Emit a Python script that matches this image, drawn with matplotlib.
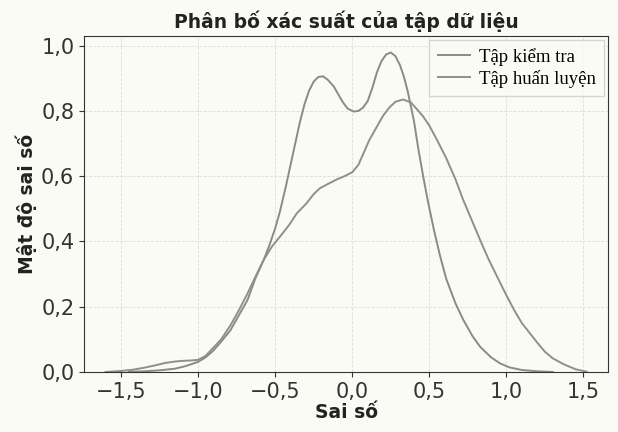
import matplotlib.pyplot as plt
from matplotlib.ticker import FuncFormatter

# values (density curves)
x_kiem_tra = [-1.45, -1.35, -1.25, -1.15, -1.08, -1.0, -0.95, -0.9, -0.85, -0.79, -0.74,
              -0.68, -0.63, -0.575, -0.54, -0.5, -0.47, -0.43, -0.4, -0.37, -0.34, -0.31,
              -0.28, -0.25, -0.22, -0.19, -0.16, -0.12, -0.09, -0.06, -0.03, 0.01, 0.04,
              0.07, 0.1, 0.13, 0.16, 0.19, 0.22, 0.25, 0.28, 0.31, 0.335, 0.36, 0.38,
              0.4, 0.43, 0.46, 0.49, 0.53, 0.57, 0.61, 0.67, 0.72, 0.78, 0.83, 0.9,
              0.96, 1.02, 1.1, 1.2, 1.3]
y_kiem_tra = [0.0, 0.002, 0.005, 0.01, 0.018, 0.031, 0.045, 0.066, 0.093, 0.128, 0.17,
              0.22, 0.285, 0.343, 0.385, 0.44, 0.49, 0.57, 0.635, 0.7, 0.765, 0.82,
              0.862, 0.89, 0.904, 0.906, 0.896, 0.875, 0.85, 0.826, 0.807, 0.798, 0.8,
              0.81, 0.83, 0.87, 0.918, 0.953, 0.973, 0.979, 0.968, 0.94, 0.905, 0.86, 0.815,
              0.77, 0.68, 0.6, 0.525, 0.435, 0.355, 0.285, 0.21, 0.16, 0.11, 0.077, 0.045,
              0.026, 0.014, 0.006, 0.002, 0.0]

x_huan_luyen = [-1.6, -1.5, -1.42, -1.35, -1.28, -1.22, -1.15, -1.1, -1.05, -1.0, -0.95,
                -0.9, -0.85, -0.79, -0.74, -0.68, -0.63, -0.575, -0.52, -0.47, -0.41,
                -0.36, -0.3, -0.25, -0.21, -0.15, -0.1, -0.05, 0.0, 0.04, 0.073, 0.11,
                0.16, 0.2, 0.24, 0.28, 0.33, 0.38, 0.42, 0.46, 0.5, 0.55, 0.61, 0.67,
                0.72, 0.78, 0.83, 0.88, 0.94, 1.0, 1.05, 1.1, 1.15, 1.2, 1.25, 1.3,
                1.37, 1.45, 1.52]
y_huan_luyen = [0.0, 0.003, 0.007, 0.013, 0.02, 0.027, 0.032, 0.034, 0.035, 0.037, 0.05,
                0.075, 0.1, 0.143, 0.185, 0.24, 0.29, 0.343, 0.385, 0.414, 0.45,
                0.486, 0.515, 0.545, 0.563, 0.578, 0.59, 0.6, 0.612, 0.635, 0.67, 0.71,
                0.752, 0.785, 0.81, 0.828, 0.835, 0.826, 0.805, 0.783, 0.755, 0.711, 0.655, 0.59,
                0.527, 0.46, 0.404, 0.35, 0.292, 0.235, 0.19, 0.15, 0.12, 0.09, 0.062, 0.042,
                0.024, 0.008, 0.001]

bg = "#fbfbf6"
plt.rcParams["font.family"] = "DejaVu Sans"

fig, ax = plt.subplots(figsize=(6.18, 4.32), dpi=100)
fig.patch.set_facecolor(bg)
ax.set_facecolor(bg)

ax.plot(x_kiem_tra, y_kiem_tra, color="#8a8a86", linewidth=1.4, label="Tập kiểm tra")
ax.plot(x_huan_luyen, y_huan_luyen, color="#8f8f8b", linewidth=1.4, label="Tập huấn luyện")

ax.set_xlim(-1.74, 1.66)
ax.set_ylim(0, 1.03)
ax.set_xticks([-1.5, -1.0, -0.5, 0.0, 0.5, 1.0, 1.5])
ax.set_yticks([0.0, 0.2, 0.4, 0.6, 0.8, 1.0])

fmt = FuncFormatter(lambda v, pos: f"{v:.1f}".replace(".", ",").replace("-", "\u2212"))
ax.xaxis.set_major_formatter(fmt)
ax.yaxis.set_major_formatter(fmt)
ax.tick_params(labelsize=15, colors="#333333")

ax.grid(True, linestyle="--", linewidth=0.6, color="#dddddd")
for s in ax.spines.values():
    s.set_color("#333333")

ax.set_title("Phân bố xác suất của tập dữ liệu", fontsize=13.5, fontweight="bold", color="#222222")
ax.set_xlabel("Sai số", fontsize=13.5, fontweight="bold", color="#222222", labelpad=1)
ax.set_ylabel("Mật độ sai số", fontsize=13.5, fontweight="bold", color="#222222", labelpad=3)

leg = ax.legend(loc="upper right", prop={"family": "Liberation Serif", "size": 13.5},
                handlelength=1.7, borderpad=0.45, labelspacing=0.2, handletextpad=0.5,
                borderaxespad=0.2, fancybox=False)
leg.get_frame().set_edgecolor("#cccccc")
leg.get_frame().set_facecolor(bg)

plt.subplots_adjust(left=0.136, right=0.984, top=0.917, bottom=0.139)
plt.savefig("out.png", facecolor=bg)
